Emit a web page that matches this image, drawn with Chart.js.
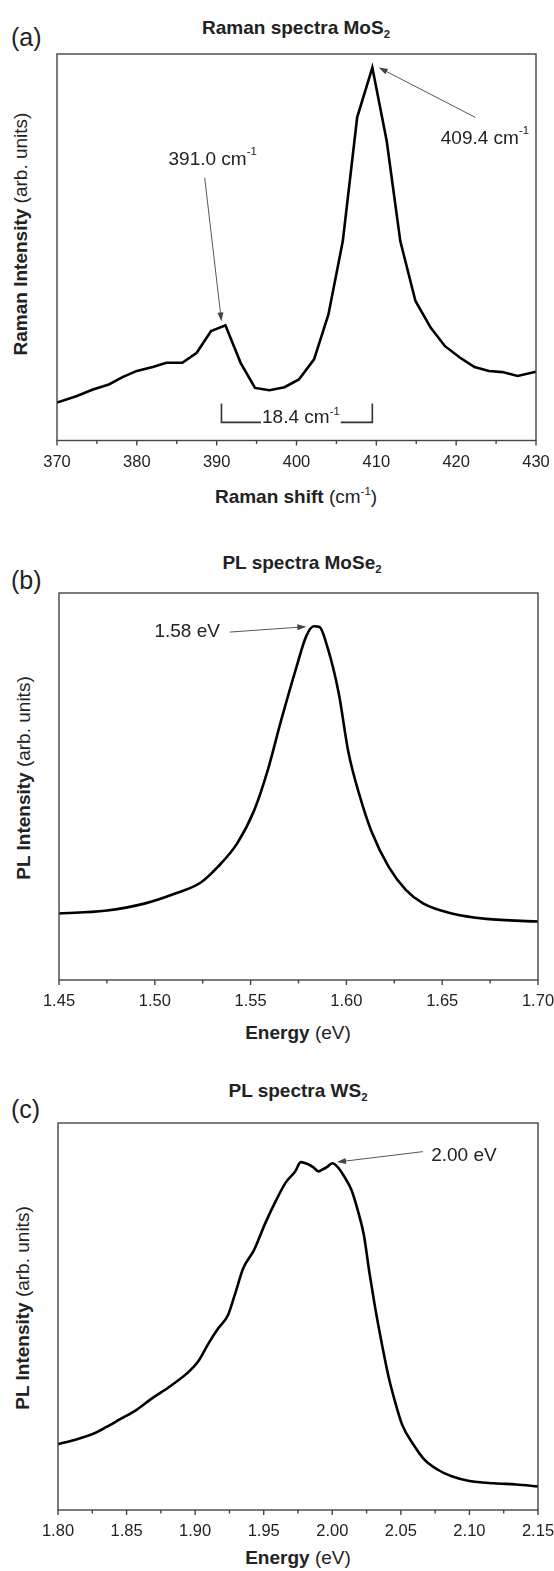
<!DOCTYPE html>
<html>
<head>
<meta charset="utf-8">
<script src="https://cdn.jsdelivr.net/npm/chart.js@4.4.1/dist/chart.umd.min.js"></script>
<style>
  body { margin: 0; background: #fff; font-family: "Liberation Sans", Arial, sans-serif; color: #222; }
  #page { position: relative; width: 554px; height: 1571px; overflow: hidden; }
  .box { position: absolute; }
  .txt { position: absolute; white-space: nowrap; transform: translate(-50%, -50%); font-size: 19px; line-height: 1; }
  .ttl { font-weight: bold; }
  .ytl { transform: translate(-50%, -50%) rotate(-90deg); }
  .tag { font-size: 25px; transform: translate(0, -50%); }
  sub, sup { font-size: 0.6em; line-height: 0; }
</style>
</head>
<body>
<div id="page">
  <!-- panel (a) -->
  <div class="txt tag" style="left:11px; top:37px;">(a)</div>
  <div class="txt ttl" style="left:296px; top:27px;">Raman spectra MoS<sub>2</sub></div>
  <div class="txt ytl" style="left:20px; top:234px;"><b>Raman Intensity</b> (arb. units)</div>
  <div class="txt" style="left:296px; top:496px;"><b>Raman shift</b> (cm<sup>-1</sup>)</div>
  <div class="box" id="boxA"><canvas id="chartA"></canvas></div>

  <!-- panel (b) -->
  <div class="txt tag" style="left:11px; top:580px;">(b)</div>
  <div class="txt ttl" style="left:302px; top:562px;">PL spectra MoSe<sub>2</sub></div>
  <div class="txt ytl" style="left:23px; top:778px;"><b>PL Intensity</b> (arb. units)</div>
  <div class="txt" style="left:298px; top:1032px;"><b>Energy</b> (eV)</div>
  <div class="box" id="boxB"><canvas id="chartB"></canvas></div>

  <!-- panel (c) -->
  <div class="txt tag" style="left:11px; top:1109px;">(c)</div>
  <div class="txt ttl" style="left:298px; top:1090px;">PL spectra WS<sub>2</sub></div>
  <div class="txt ytl" style="left:22px; top:1308px;"><b>PL Intensity</b> (arb. units)</div>
  <div class="txt" style="left:298px; top:1557px;"><b>Energy</b> (eV)</div>
  <div class="box" id="boxC"><canvas id="chartC"></canvas></div>
</div>

<script>
// (a) Raman spectrum of MoS2
const ramanShift = [370.0, 372.5, 374.5, 376.5, 378.2, 380.0, 382.0, 383.7, 385.7, 387.5,
  389.3, 391.1, 393.0, 394.8, 396.6, 398.5, 400.3, 402.2, 404.0, 405.8,
  407.6, 409.5, 411.3, 413.0, 414.9, 416.8, 418.6, 420.5, 422.3, 424.1,
  425.8, 427.7, 430.0];
const ramanIntensity = [9.8, 11.5, 13.2, 14.5, 16.4, 18.0, 19.0, 20.1, 20.1, 22.7,
  28.3, 29.8, 20.1, 13.6, 13.0, 13.8, 15.8, 21.0, 32.6, 51.6,
  83.6, 96.5, 77.5, 51.6, 36.1, 29.2, 24.4, 21.4, 19.0, 18.0,
  17.7, 16.7, 17.8];
const ramanTicks = [370, 380, 390, 400, 410, 420, 430];

// (b) PL spectrum of MoSe2
const moseEnergy = [1.450, 1.474, 1.495, 1.511, 1.524, 1.533, 1.543, 1.552, 1.559, 1.566,
  1.574, 1.579, 1.583, 1.586, 1.590, 1.596, 1.601, 1.607, 1.613, 1.622,
  1.631, 1.640, 1.655, 1.673, 1.700];
const moseIntensity = [17.2, 17.9, 19.8, 22.4, 25.2, 29.3, 35.3, 44.0, 54.3, 67.2,
  81.0, 88.8, 91.4, 91.2, 86.2, 74.1, 59.0, 47.5, 38.5, 29.3,
  23.3, 19.8, 17.2, 15.8, 15.1];
const moseTicks = [1.45, 1.50, 1.55, 1.60, 1.65, 1.70];

// (c) PL spectrum of WS2
const wsEnergy = [1.800, 1.812, 1.825, 1.835, 1.845, 1.857, 1.868, 1.881, 1.894, 1.902,
  1.910, 1.917, 1.924, 1.929, 1.935, 1.943, 1.951, 1.959, 1.966, 1.973,
  1.977, 1.982, 1.986, 1.990, 1.993, 1.996, 2.000, 2.004, 2.009, 2.014,
  2.019, 2.023, 2.027, 2.031, 2.036, 2.041, 2.046, 2.051, 2.059, 2.067,
  2.077, 2.087, 2.100, 2.118, 2.134, 2.150];
const wsIntensity = [17.0, 18.1, 19.6, 21.4, 23.4, 25.8, 28.7, 31.8, 35.3, 38.3,
  43.2, 47.0, 50.4, 55.7, 62.4, 67.2, 74.0, 80.0, 84.6, 87.5,
  89.9, 89.4, 88.6, 87.5, 88.0, 88.6, 89.6, 88.6, 86.0, 82.7,
  76.9, 71.1, 61.5, 52.8, 43.2, 34.5, 27.7, 22.0, 17.0, 13.1,
  10.4, 8.7, 7.5, 6.9, 6.6, 6.1];
const wsTicks = [1.80, 1.85, 1.90, 1.95, 2.00, 2.05, 2.10, 2.15];

const FONT = '"Liberation Sans", Arial, sans-serif';

// text with a small raised part (e.g. cm^-1)
function drawRich(ctx, main, sup, cx, y, size, base) {
  ctx.font = size + 'px ' + FONT;
  const w1 = ctx.measureText(main).width;
  ctx.font = (size * 0.6) + 'px ' + FONT;
  const w2 = sup ? ctx.measureText(sup).width : 0;
  const x0 = cx - (w1 + w2) / 2;
  ctx.textAlign = 'left';
  ctx.textBaseline = base;
  ctx.fillStyle = '#222';
  ctx.font = size + 'px ' + FONT;
  ctx.fillText(main, x0, y);
  if (sup) {
    ctx.font = (size * 0.6) + 'px ' + FONT;
    ctx.fillText(sup, x0 + w1, y - size * 0.42);
  }
  return [x0, x0 + w1 + w2];
}

function drawArrow(ctx, x1, y1, x2, y2) {
  const ang = Math.atan2(y2 - y1, x2 - x1);
  const hl = 9, hw = 3;
  ctx.strokeStyle = '#555';
  ctx.fillStyle = '#444';
  ctx.lineWidth = 1;
  ctx.beginPath();
  ctx.moveTo(x1, y1);
  ctx.lineTo(x2 - Math.cos(ang) * hl * 0.8, y2 - Math.sin(ang) * hl * 0.8);
  ctx.stroke();
  ctx.beginPath();
  ctx.moveTo(x2, y2);
  ctx.lineTo(x2 - Math.cos(ang) * hl - Math.sin(ang) * hw, y2 - Math.sin(ang) * hl + Math.cos(ang) * hw);
  ctx.lineTo(x2 - Math.cos(ang) * hl + Math.sin(ang) * hw, y2 - Math.sin(ang) * hl - Math.cos(ang) * hw);
  ctx.closePath();
  ctx.fill();
}

// frame, outward tick marks (major + minor) and annotations
const framePlugin = {
  id: 'frame',
  afterDraw(chart, args, opts) {
    const { ctx, chartArea: a, scales } = chart;
    const x = scales.x, y = scales.y;
    ctx.save();
    ctx.strokeStyle = '#444';
    ctx.lineWidth = 1.4;
    ctx.strokeRect(a.left, a.top, a.right - a.left, a.bottom - a.top);

    const ticks = x.ticks.map(t => t.value);
    ctx.beginPath();
    ticks.forEach((v, i) => {
      const px = x.getPixelForValue(v);
      ctx.moveTo(px, a.bottom);
      ctx.lineTo(px, a.bottom + 5);
      if (i < ticks.length - 1) {
        const mx = x.getPixelForValue((v + ticks[i + 1]) / 2);
        ctx.moveTo(mx, a.bottom);
        ctx.lineTo(mx, a.bottom + 3.5);
      }
    });
    ctx.stroke();

    (opts.notes || []).forEach(n => {
      if (n.type === 'label') {
        drawRich(ctx, n.text, n.sup, x.getPixelForValue(n.x), y.getPixelForValue(n.y), 19, 'middle');
      } else if (n.type === 'arrow') {
        drawArrow(ctx, x.getPixelForValue(n.x1), y.getPixelForValue(n.y1),
          x.getPixelForValue(n.x2), y.getPixelForValue(n.y2));
      } else if (n.type === 'bracket') {
        const xl = x.getPixelForValue(n.x1), xr = x.getPixelForValue(n.x2);
        const yt = y.getPixelForValue(n.yTop), yb = y.getPixelForValue(n.yBottom);
        const span = drawRich(ctx, n.text, n.sup, (xl + xr) / 2 + 4, yb + 1, 19, 'alphabetic');
        ctx.strokeStyle = '#333';
        ctx.lineWidth = 1.6;
        ctx.beginPath();
        ctx.moveTo(xl, yt); ctx.lineTo(xl, yb); ctx.lineTo(span[0] - 1, yb);
        ctx.moveTo(span[1] + 1, yb); ctx.lineTo(xr, yb); ctx.lineTo(xr, yt);
        ctx.stroke();
      }
    });
    ctx.restore();
  }
};

function makeChart(canvasId, boxId, frame, xs, ys, xTicks, decimals, tension, notes) {
  const box = document.getElementById(boxId);
  box.style.left = (frame.left - 30) + 'px';
  box.style.top = (frame.top - 10) + 'px';
  box.style.width = (frame.right - frame.left + 60) + 'px';
  box.style.height = (frame.bottom - frame.top + 50) + 'px';

  return new Chart(document.getElementById(canvasId), {
    type: 'line',
    data: {
      datasets: [{
        data: xs.map((v, i) => ({ x: v, y: ys[i] })),
        borderColor: '#000',
        borderWidth: 2.6,
        pointRadius: 0,
        fill: false,
        tension: tension,
        cubicInterpolationMode: tension > 0 ? 'monotone' : 'default'
      }]
    },
    options: {
      responsive: true,
      maintainAspectRatio: false,
      animation: false,
      layout: { padding: { left: 30, right: 30, top: 10, bottom: 0 } },
      plugins: {
        legend: { display: false },
        tooltip: { enabled: false },
        frame: { notes: notes }
      },
      scales: {
        x: {
          type: 'linear',
          min: xTicks[0],
          max: xTicks[xTicks.length - 1],
          afterBuildTicks: s => { s.ticks = xTicks.map(v => ({ value: v })); },
          afterFit: s => { s.height = 40; },
          grid: { display: false, drawTicks: false },
          border: { display: false },
          ticks: {
            padding: 12,
            color: '#222',
            maxRotation: 0,
            autoSkip: false,
            font: { family: FONT, size: 16.5 },
            callback: v => Number(v).toFixed(decimals)
          }
        },
        y: { display: false, min: 0, max: 100 }
      }
    },
    plugins: [framePlugin]
  });
}

makeChart('chartA', 'boxA', { left: 56.5, right: 535.5, top: 53.5, bottom: 440 },
  ramanShift, ramanIntensity, ramanTicks, 0, 0, [
    { type: 'label', x: 389.5, y: 72.7, text: '391.0 cm', sup: '-1' },
    { type: 'arrow', x1: 388.5, y1: 68.0, x2: 390.6, y2: 30.8 },
    { type: 'label', x: 423.6, y: 78.1, text: '409.4 cm', sup: '-1' },
    { type: 'arrow', x1: 422.4, y1: 83.6, x2: 410.3, y2: 96.5 },
    { type: 'bracket', x1: 390.6, x2: 409.5, yTop: 9.6, yBottom: 4.7, text: '18.4 cm', sup: '-1' }
  ]);

makeChart('chartB', 'boxB', { left: 59.3, right: 538.3, top: 593, bottom: 980 },
  moseEnergy, moseIntensity, moseTicks, 2, 0.4, [
    { type: 'label', x: 1.5169, y: 89.9, text: '1.58 eV' },
    { type: 'arrow', x1: 1.5391, y1: 89.9, x2: 1.5791, y2: 91.3 }
  ]);

makeChart('chartC', 'boxC', { left: 58, right: 538, top: 1123, bottom: 1510 },
  wsEnergy, wsIntensity, wsTicks, 2, 0.2, [
    { type: 'label', x: 2.096, y: 91.6, text: '2.00 eV' },
    { type: 'arrow', x1: 2.0661, y1: 92.6, x2: 2.0034, y2: 89.9 }
  ]);
</script>
</body>
</html>
